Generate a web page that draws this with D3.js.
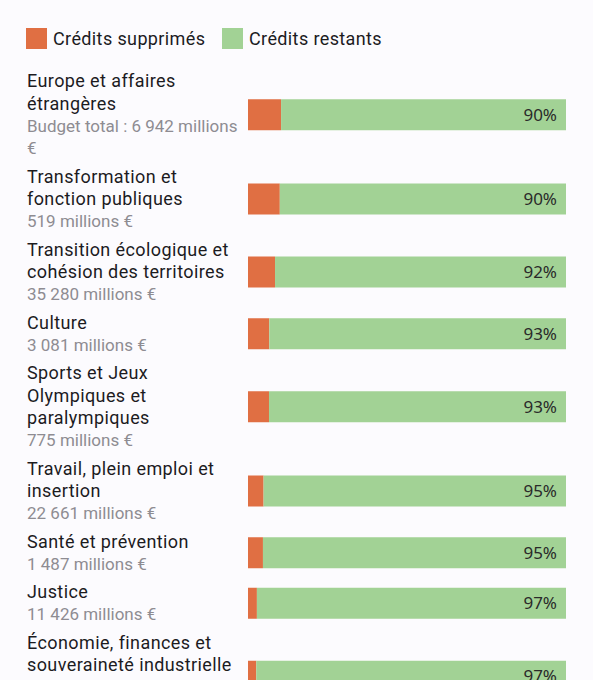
<!DOCTYPE html>
<html>
<head>
<meta charset="utf-8">
<script src="https://cdn.jsdelivr.net/npm/d3@7"></script>
<style>
  html, body { margin: 0; padding: 0; background: #fcfbfe; }
  svg { display: block; }
</style>
</head>
<body>
<div id="chart"></div>
<script>
// Data
// ===========================
var titles = [
  "Europe et affaires\nétrangères",
  "Transformation et\nfonction publiques",
  "Transition écologique et\ncohésion des territoires",
  "Culture",
  "Sports et Jeux\nOlympiques et\nparalympiques",
  "Travail, plein emploi et\ninsertion",
  "Santé et prévention",
  "Justice",
  "Économie, finances et\nsouveraineté industrielle\net numérique"
];
var budgets = [
  "Budget total : 6 942 millions\n€",
  "519 millions €",
  "35 280 millions €",
  "3 081 millions €",
  "775 millions €",
  "22 661 millions €",
  "1 487 millions €",
  "11 426 millions €",
  "74 350 millions €"
];
// share of credits removed, in %
var supprimes = [10.4, 10.0, 8.5, 6.7, 6.6, 4.9, 4.7, 2.8, 2.6];
var legendLabels = ["Crédits supprimés", "Crédits restants"];
var colors = ["#e06f43", "#a2d295"];

// Setup
// ===========================
var width = 593;
var height = 680;
var lineH = 22.5;
var rowGap = 5.5;
var firstLine = 81;
var barH = 31;

var svg = d3.select("#chart")
  .append("svg")
  .attr("width", width)
  .attr("height", height);

var xScale = d3.scaleLinear()
  .domain([0, 100])
  .range([248, 566]);

// Legend
var legend = svg.append("g").attr("class", "legend");
var legX = [26, 222];
legendLabels.forEach(function(lab, i) {
  legend.append("rect")
    .attr("x", legX[i])
    .attr("y", 28)
    .attr("width", 21)
    .attr("height", 21)
    .attr("fill", colors[i]);
  legend.append("text")
    .attr("x", legX[i] + 27)
    .attr("y", 39)
    .attr("dy", "0.35em")
    .style("font-family", "Roboto, sans-serif")
    .style("font-size", "18px")
    .style("letter-spacing", "0.38px")
    .attr("fill", "#1c1b1f")
    .text(lab);
});

// Rows
var y = firstLine;
titles.forEach(function(t, i) {
  var tLines = t.split("\n");
  var bLines = budgets[i].split("\n");
  var n = tLines.length + bLines.length;
  var g = svg.append("g").attr("class", "row");

  tLines.forEach(function(l, k) {
    g.append("text")
      .attr("x", 27)
      .attr("y", y + k * lineH)
      .attr("dy", "0.35em")
      .style("font-family", "Roboto, sans-serif")
      .style("font-size", "18px")
      .style("letter-spacing", "0.4px")
      .attr("fill", "#1c1b1f")
      .text(l);
  });
  bLines.forEach(function(l, k) {
    g.append("text")
      .attr("x", 27)
      .attr("y", y + (tLines.length + k) * lineH)
      .attr("dy", "0.35em")
      .style("font-family", "Roboto, sans-serif")
      .style("font-size", "17px")
      .attr("fill", "#8e8c92")
      .text(l);
  });

  // bar sits at the middle of the row's text block
  var cy = y + (n - 1) * lineH / 2;
  g.append("rect")
    .attr("x", xScale(0))
    .attr("y", cy - barH / 2)
    .attr("width", xScale(supprimes[i]) - xScale(0))
    .attr("height", barH)
    .attr("fill", colors[0]);
  g.append("rect")
    .attr("x", xScale(supprimes[i]))
    .attr("y", cy - barH / 2)
    .attr("width", xScale(100) - xScale(supprimes[i]))
    .attr("height", barH)
    .attr("fill", colors[1]);
  g.append("text")
    .attr("x", xScale(100) - 9)
    .attr("y", cy)
    .attr("dy", "0.35em")
    .attr("text-anchor", "end")
    .style("font-family", "'Noto Sans', sans-serif")
    .style("font-size", "17px")
    .attr("fill", "#2a2a2a")
    .text(Math.round(100 - supprimes[i]) + "%");

  y += n * lineH + rowGap;
});
</script>
</body>
</html>
